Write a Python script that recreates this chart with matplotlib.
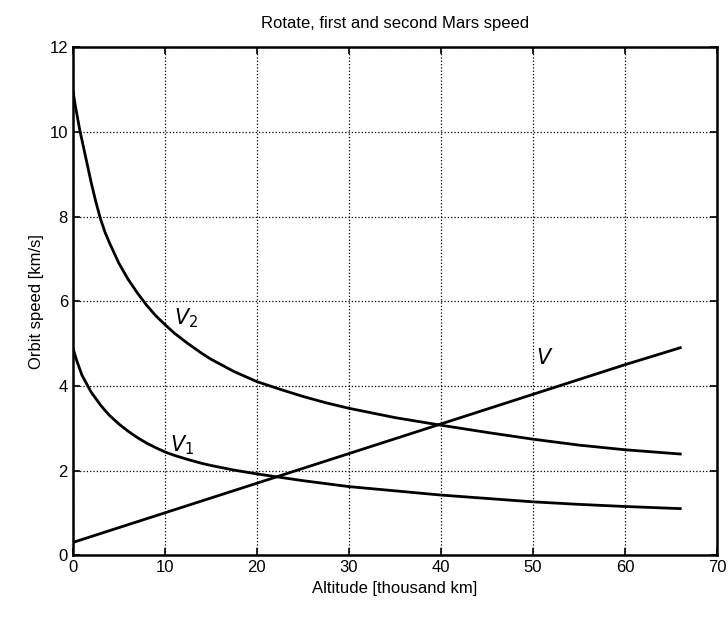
import matplotlib
matplotlib.use('Agg')
import matplotlib.pyplot as plt

plt.rcParams['font.family'] = ['Liberation Sans', 'DejaVu Sans']

# altitude [thousand km] and speeds [km/s]
alt = [0, 0.25, 0.5, 0.75, 1, 1.5, 2, 2.5, 3, 3.5, 4, 5, 6, 7, 8, 9, 10, 11, 12.5, 14, 15, 17.5, 20,
       22.5, 25, 27.5, 30, 35, 40, 45, 50, 55, 60, 66]
v1 = [4.9, 4.72, 4.55, 4.4, 4.25, 4.05, 3.85, 3.7, 3.55, 3.42, 3.3, 3.1, 2.93, 2.78, 2.65, 2.54, 2.44,
      2.36, 2.26, 2.17, 2.12, 2.01, 1.92, 1.84, 1.76, 1.69, 1.62, 1.52, 1.42, 1.34, 1.26, 1.2, 1.15, 1.1]
v2 = [11.0, 10.65, 10.35, 10.05, 9.8, 9.3, 8.8, 8.35, 7.95, 7.63, 7.37, 6.9, 6.52, 6.2, 5.91, 5.66, 5.45,
      5.25, 5.0, 4.77, 4.63, 4.34, 4.1, 3.92, 3.75, 3.6, 3.47, 3.25, 3.07, 2.9, 2.74, 2.6, 2.49, 2.39]
v_alt = [0, 10, 20, 30, 40, 50, 60, 66]
v = [0.3, 1.0, 1.7, 2.4, 3.1, 3.8, 4.5, 4.9]

fig = plt.figure(figsize=(7.28, 6.21), dpi=100)
ax = fig.add_axes([0.100, 0.106, 0.885, 0.818])

ax.plot(alt, v2, color='black', lw=2)
ax.plot(alt, v1, color='black', lw=2)
ax.plot(v_alt, v, color='black', lw=2)

ax.text(11.0, 5.6, r'$V_2$', fontsize=15, va='center')
ax.text(10.6, 2.6, r'$V_1$', fontsize=15, va='center')
ax.text(50.3, 4.65, r'$V$', fontsize=15, va='center')

ax.set_xlim(0, 70)
ax.set_ylim(0, 12)
ax.set_xticks(range(0, 71, 10))
ax.set_yticks(range(0, 13, 2))
ax.grid(True, color='black', ls=':', lw=0.9)
ax.tick_params(direction='in', top=True, right=True, labelsize=12, length=5, width=1.2)
for s in ax.spines.values():
    s.set_linewidth(1.8)

ax.set_xlabel('Altitude [thousand km]', fontsize=12)
ax.set_ylabel('Orbit speed [km/s]', fontsize=12)
ax.set_title('Rotate, first and second Mars speed', fontsize=12, pad=14)

fig.savefig('out.png')
